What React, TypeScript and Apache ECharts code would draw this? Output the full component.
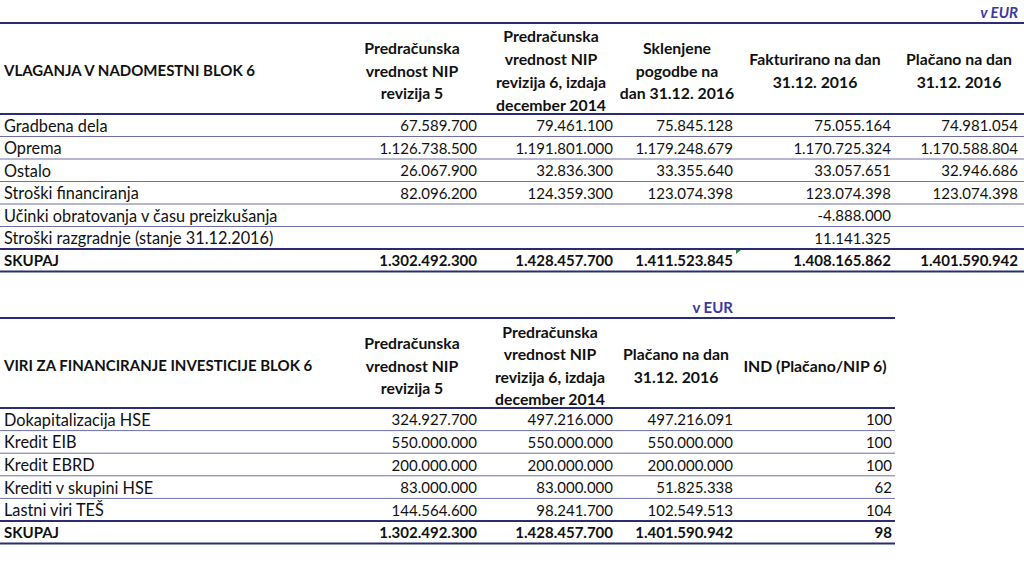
import React, { useEffect, useRef } from "react";
import * as echarts from "echarts";

// ---------- DATA ----------
const unitLabel = "v EUR";

const table1Title = "VLAGANJA V NADOMESTNI BLOK 6";
const table1Headers = [
  ["Predračunska", "vrednost NIP", "revizija 5"],
  ["Predračunska", "vrednost NIP", "revizija 6, izdaja", "december 2014"],
  ["Sklenjene", "pogodbe na", "dan 31.12. 2016"],
  ["Fakturirano na dan", "31.12. 2016"],
  ["Plačano na dan", "31.12. 2016"],
];
const table1Rows = [
  "Gradbena dela",
  "Oprema",
  "Ostalo",
  "Stroški financiranja",
  "Učinki obratovanja v času preizkušanja",
  "Stroški razgradnje (stanje 31.12.2016)",
];
const nipRev5 = [67589700, 1126738500, 26067900, 82096200, null, null];
const nipRev6 = [79461100, 1191801000, 32836300, 124359300, null, null];
const contracted = [75845128, 1179248679, 33355640, 123074398, null, null];
const invoiced = [75055164, 1170725324, 33057651, 123074398, -4888000, 11141325];
const paid = [74981054, 1170588804, 32946686, 123074398, null, null];
const totalLabel = "SKUPAJ";
const totals1 = [1302492300, 1428457700, 1411523845, 1408165862, 1401590942];

const table2Title = "VIRI ZA FINANCIRANJE INVESTICIJE BLOK 6";
const table2Headers = [
  ["Predračunska", "vrednost NIP", "revizija 5"],
  ["Predračunska", "vrednost NIP", "revizija 6, izdaja", "december 2014"],
  ["Plačano na dan", "31.12. 2016"],
  ["IND (Plačano/NIP 6)"],
];
const sources = ["Dokapitalizacija HSE", "Kredit EIB", "Kredit EBRD", "Krediti v skupini HSE", "Lastni viri TEŠ"];
const srcRev5 = [324927700, 550000000, 200000000, 83000000, 144564600];
const srcRev6 = [497216000, 550000000, 200000000, 83000000, 98241700];
const srcPaid = [497216091, 550000000, 200000000, 51825338, 102549513];
const srcInd = [100, 100, 100, 62, 104];
const totals2 = [1302492300, 1428457700, 1401590942, 98];

// ---------- LAYOUT / STYLE ----------
const FONT = "Lato, 'Open Sans', sans-serif";
const FS = 15;
const FS_LABEL = 16.3;
const FS_HEAD = 15.8;
const TEXT = "#111111";
const DARK = "#2A2C78";
const THIN = "#6E6FA8";
const UNIT_COLOR = "#3A3A9E";

function fmt(n: number | null): string {
  if (n === null || n === undefined) return "";
  const s = String(Math.abs(n)).replace(/\B(?=(\d{3})+(?!\d))/g, ".");
  return (n < 0 ? "-" : "") + s;
}

function buildElements() {
  const els: any[] = [];
  const text = (x: number, y: number, t: string, align: string, bold = false, extra: any = {}) =>
    els.push({
      type: "text",
      silent: true,
      x,
      y,
      style: {
        text: t,
        fontFamily: FONT,
        fontSize: FS,
        fontWeight: bold ? "bold" : "normal",
        fill: TEXT,
        align,
        verticalAlign: "middle",
        ...extra,
      },
    });
  const line = (x1: number, x2: number, y: number, w: number, c: string) =>
    els.push({ type: "line", silent: true, shape: { x1, y1: y, x2, y2: y }, style: { stroke: c, lineWidth: w } });

  // ---- Table 1 ----
  const t1Right = [477, 613, 733, 891, 1018];
  const t1Center = [412, 551, 677, 815, 959];
  const t1Top = 23;
  const t1HeadBottom = 114;
  const t1Row = 22.5;
  const t1Width = 1024;
  text(1018, 12, unitLabel, "right", true, { fill: UNIT_COLOR, fontStyle: "italic" });
  line(0, t1Width, t1Top, 2, DARK);
  const h1 = (t1Top + t1HeadBottom) / 2 + 1.5;
  text(4, h1, table1Title, "left", true);
  table1Headers.forEach((lines, i) => {
    text(t1Center[i], h1, lines.join("\n"), "center", true, { lineHeight: 22.7, fontSize: FS_HEAD });
  });
  line(0, t1Width, t1HeadBottom, 2, DARK);
  const cols1 = [nipRev5, nipRev6, contracted, invoiced, paid];
  table1Rows.forEach((label, r) => {
    const yc = t1HeadBottom + t1Row * (r + 0.5);
    text(4, yc, label, "left", false, { fontSize: FS_LABEL });
    cols1.forEach((col, c) => text(t1Right[c], yc, fmt(col[r]), "right"));
    const yl = t1HeadBottom + t1Row * (r + 1);
    line(0, t1Width, yl, r === table1Rows.length - 1 ? 2 : 1, r === table1Rows.length - 1 ? DARK : THIN);
  });
  const yt1 = t1HeadBottom + t1Row * (table1Rows.length + 0.5);
  text(4, yt1, totalLabel, "left", true);
  totals1.forEach((v, c) => text(t1Right[c], yt1, fmt(v), "right", true));
  line(0, t1Width, t1HeadBottom + t1Row * (table1Rows.length + 1), 2, DARK);
  // Excel error indicator
  const yTot = t1HeadBottom + t1Row * table1Rows.length;
  els.push({
    type: "polygon",
    silent: true,
    shape: { points: [[736, yTot + 1], [741, yTot + 1], [736, yTot + 5]] },
    style: { fill: "#1E8C3A" },
  });

  // ---- Table 2 ----
  const t2Right = [477, 613, 733, 892];
  const t2Center = [412, 550, 676, 815];
  const t2Top = 318;
  const t2HeadBottom = 408;
  const t2Row = 22.6;
  const t2Width = 895;
  text(733, 307, unitLabel, "right", true, { fill: UNIT_COLOR });
  line(0, t2Width, t2Top, 2, DARK);
  const h2 = (t2Top + t2HeadBottom) / 2 + 2;
  text(4, h2, table2Title, "left", true);
  table2Headers.forEach((lines, i) => {
    text(t2Center[i], h2, lines.join("\n"), "center", true, { lineHeight: 22.2, fontSize: FS_HEAD });
  });
  line(0, t2Width, t2HeadBottom, 2, DARK);
  const cols2: number[][] = [srcRev5, srcRev6, srcPaid, srcInd];
  sources.forEach((label, r) => {
    const yc = t2HeadBottom + t2Row * (r + 0.5);
    text(4, yc, label, "left", false, { fontSize: FS_LABEL });
    cols2.forEach((col, c) => text(t2Right[c], yc, fmt(col[r]), "right"));
    const yl = t2HeadBottom + t2Row * (r + 1);
    line(0, t2Width, yl, r === sources.length - 1 ? 2 : 1, r === sources.length - 1 ? DARK : THIN);
  });
  const yt2 = t2HeadBottom + t2Row * (sources.length + 0.5);
  text(4, yt2, totalLabel, "left", true);
  totals2.forEach((v, c) => text(t2Right[c], yt2, fmt(v), "right", true));
  line(0, t2Width, t2HeadBottom + t2Row * (sources.length + 1), 2, DARK);

  return els;
}

export default function App() {
  const ref = useRef<HTMLDivElement>(null);
  useEffect(() => {
    const chart = echarts.init(ref.current!, null, { renderer: "svg" });
    chart.setOption({
      animation: false,
      backgroundColor: "#ffffff",
      graphic: { elements: buildElements() },
    });
    return () => chart.dispose();
  }, []);
  return (
    <div
      ref={ref}
      style={{ position: "fixed", left: 0, top: 0, width: 1024, height: 568, background: "#fff" }}
    />
  );
}
